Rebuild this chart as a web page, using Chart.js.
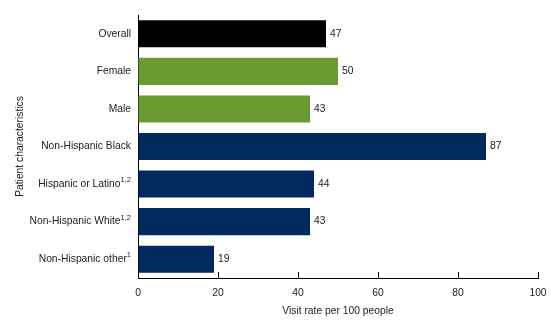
<!DOCTYPE html>
<html><head><meta charset="utf-8">
<script src="https://cdn.jsdelivr.net/npm/chart.js@4/dist/chart.umd.min.js"></script>
<style>html,body{margin:0;padding:0;background:#fff}#wrap{width:560px;height:327px}</style>
</head><body><div id="wrap"><canvas id="c" width="560" height="327"></canvas></div>
<script>
const categories = ["Overall","Female","Male","Non-Hispanic Black","Hispanic or Latino","Non-Hispanic White","Non-Hispanic other"];
const superscripts = ["","","","","1,2","1,2","1"];
const visitRates = [47,50,43,87,44,43,19];
const barColors = ["#000000","#6a9a32","#6a9a32","#002b5c","#002b5c","#002b5c","#002b5c"];
const xTicks = [0,20,40,60,80,100];
const FONT = "'Liberation Sans', Arial, sans-serif";
const FS = 10.3;

const customDraw = {
  id:'customDraw',
  afterDatasetsDraw(chart){
    const ctx = chart.ctx;
    const meta = chart.getDatasetMeta(0);
    const xs = chart.scales.x, ys = chart.scales.y;
    ctx.save();
    ctx.fillStyle = '#222';
    ctx.font = FS + 'px ' + FONT;
    ctx.textBaseline = 'middle';
    ctx.textAlign = 'left';
    meta.data.forEach((bar,i)=>{
      ctx.fillText(String(visitRates[i]), bar.x + 4, bar.y);
    });
    categories.forEach((lab,i)=>{
      const y = ys.getPixelForValue(i);
      const right = xs.left - 7;
      ctx.font = '7.5px ' + FONT;
      const sw = superscripts[i] ? ctx.measureText(superscripts[i]).width : 0;
      if (superscripts[i]) {
        ctx.textAlign = 'right';
        ctx.fillText(superscripts[i], right, y - 4);
      }
      ctx.font = FS + 'px ' + FONT;
      ctx.textAlign = 'right';
      ctx.fillText(lab, right - sw, y);
    });
    ctx.strokeStyle = '#000';
    ctx.lineWidth = 1;
    xTicks.forEach(v=>{
      const px = Math.round(xs.getPixelForValue(v)) + 0.5;
      ctx.beginPath();
      ctx.moveTo(px, ys.bottom);
      ctx.lineTo(px, ys.bottom - 6);
      ctx.stroke();
    });
    ctx.restore();
  }
};

new Chart(document.getElementById('c'), {
  type:'bar',
  data:{
    labels: categories,
    datasets:[{
      data: visitRates,
      backgroundColor: barColors,
      borderWidth:0,
      barPercentage:0.9,
      categoryPercentage:0.8
    }]
  },
  options:{
    indexAxis:'y',
    responsive:false,
    animation:false,
    devicePixelRatio:1,
    layout:{padding:{left:0,right:22,top:15,bottom:10}},
    plugins:{legend:{display:false},tooltip:{enabled:false}},
    scales:{
      x:{
        min:0,max:100,
        afterBuildTicks(s){ s.ticks = xTicks.map(v=>({value:v})); },
        afterFit(s){ s.height = 39; },
        grid:{display:true,drawOnChartArea:false,drawTicks:false,color:'#000'},
        border:{display:true,color:'#000',width:1},
        ticks:{padding:9,color:'#222',font:{family:FONT,size:FS},maxRotation:0},
        title:{display:true,text:'Visit rate per 100 people',color:'#222',font:{family:FONT,size:FS},padding:{top:0,bottom:0}}
      },
      y:{
        afterFit(s){ s.width = 138; },
        grid:{display:false,drawTicks:false},
        border:{display:true,color:'#000',width:1},
        ticks:{display:false},
        title:{display:true,text:'Patient characteristics',color:'#222',font:{family:FONT,size:FS},padding:{top:14,bottom:0}}
      }
    }
  },
  plugins:[customDraw]
});
</script></body></html>
